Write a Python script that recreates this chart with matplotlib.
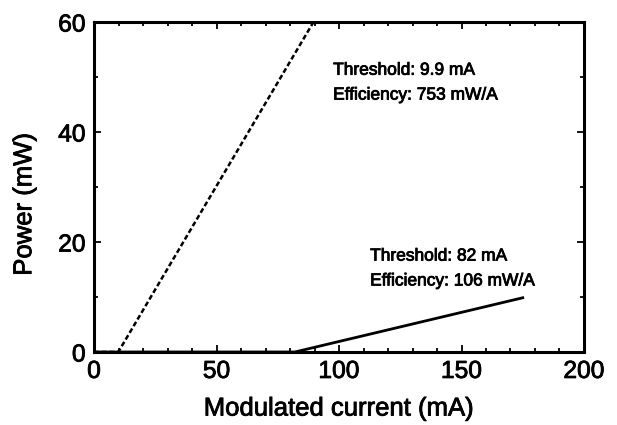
import numpy as np
import matplotlib
matplotlib.use("Agg")
import matplotlib.pyplot as plt
import matplotlib.patheffects as pe
from matplotlib.ticker import MultipleLocator

plt.rcParams['font.family'] = ['Liberation Sans', 'DejaVu Sans']

# L-I characteristics: threshold current (mA), slope efficiency (mW/A), end current (mA)
labels = ["Threshold: 9.9 mA\nEfficiency: 753 mW/A", "Threshold: 82 mA\nEfficiency: 106 mW/A"]
thresholds = [9.9, 82.0]
efficiencies = [753.0, 106.0]
end_currents = [89.6, 175.0]
styles = ["--", "-"]

# slightly heavier glyph strokes
heavy = [pe.withStroke(linewidth=0.6, foreground="black")]

fig = plt.figure(figsize=(6.17, 4.25), dpi=100)
ax = fig.add_axes([0.1524, 0.1718, 0.7941, 0.7764])

for ith, eff, iend, ls in zip(thresholds, efficiencies, end_currents, styles):
    current = np.array([0.0, ith, iend])
    power = np.clip(current - ith, 0, None) * eff / 1000.0
    if ls == "--":
        ax.plot(current, power, color="black", lw=1.8, linestyle=(0, (2.0, 1.1)))
    else:
        ax.plot(current, power, color="black", lw=2.0)

for xy, txt in zip([(97.6, 52.6), (112.7, 18.8)], labels):
    ax.text(xy[0], xy[1], txt, fontsize=12.5, va="top", ha="left",
            linespacing=1.82, path_effects=heavy)

ax.set_xlim(0, 200)
ax.set_ylim(0, 60)
ax.xaxis.set_major_locator(MultipleLocator(50))
ax.xaxis.set_minor_locator(MultipleLocator(10))
ax.yaxis.set_major_locator(MultipleLocator(20))
ax.yaxis.set_minor_locator(MultipleLocator(10))
ax.tick_params(which="both", direction="in", top=True, right=True, width=1.3, labelsize=17.7)
ax.tick_params(which="major", length=5)
ax.tick_params(which="minor", length=3)
ax.tick_params(axis="x", which="major", pad=5)
ax.tick_params(axis="y", which="major", pad=6)
for s in ax.spines.values():
    s.set_linewidth(2.2)
for lbl in ax.get_xticklabels() + ax.get_yticklabels():
    lbl.set_path_effects(heavy)

ax.set_xlabel("Modulated current (mA)", fontsize=18.5, path_effects=heavy)
ax.set_ylabel("Power (mW)", fontsize=18.5, path_effects=heavy)
ax.xaxis.set_label_coords(0.5, -0.135)
ax.yaxis.set_label_coords(-0.118, 0.448)

fig.savefig("out.png", dpi=100)
